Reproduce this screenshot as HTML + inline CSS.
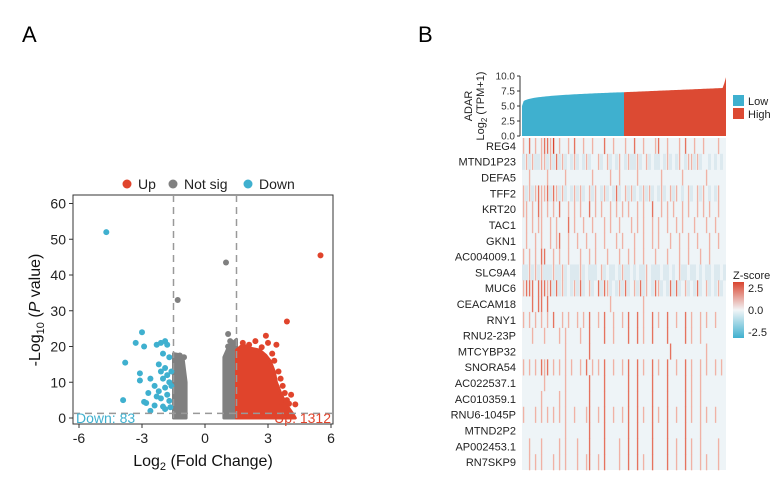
<!DOCTYPE html>
<html><head><meta charset="utf-8"><style>
body{margin:0;background:#fff;}
svg{display:block;font-family:"Liberation Sans",sans-serif;}
</style></head><body>
<svg id="svg" width="780" height="488" viewBox="0 0 780 488">
<text x="22" y="42" font-size="22">A</text>
<text x="418" y="42" font-size="22">B</text>
<g id="volcano"></g>
<g id="heat"></g>
</svg>
<script>
const NS='http://www.w3.org/2000/svg';
function mk(t,a,p){const e=document.createElementNS(NS,t);for(const k in a)e.setAttribute(k,a[k]);p.appendChild(e);return e;}
// ---- Volcano data ----
const xTicks=[-6,-3,0,3,6];
const yTicks=[0,10,20,30,40,50,60];
const fcCut=1.5, pCut=1.3;
const bluePts=[[-4.7,52],[-3.0,24],[-3.3,21],[-2.9,20],[-3.8,15.5],[-3.1,12.5],[-3.1,10.5],[-2.6,11],[-2.4,9],[-2.7,7],[-3.9,5],[-2.9,4.5],[-2.8,4.2],[-2.3,20.5],[-2.1,21],[-1.9,21.5],[-1.8,20.5],[-2.0,18],[-1.7,17],[-2.2,15],[-1.9,14],[-2.1,13],[-1.8,12],[-2.0,11],[-1.7,10],[-1.9,8.5],[-2.2,7.5],[-1.8,6.5],[-2.1,5.5],[-1.7,4.8],[-2.4,3.5],[-1.9,2.5],[-2.6,2],[-1.6,9],[-1.6,13],[-2.3,6],[-2.0,3.2],[-1.65,3]];
const grayPts=[[-1.3,33],[1.0,43.5],[1.1,23.5],[1.2,21.5],[1.1,20],[-1.2,17.5],[-1.0,17]];
const redPts=[[5.5,45.5],[3.9,27],[2.9,23],[2.4,21.5],[3.0,21],[3.4,20.5],[3.2,18],[3.5,13],[3.6,11],[3.7,9],[3.8,7],[4.1,6.5],[3.9,5],[4.3,3.8],[3.6,4.5],[4.0,4],[1.8,21],[2.1,20.5],[2.7,19.8],[3.3,16]];
const grayLeftEnv=[[-1.5,0],[-1.5,18],[-1.3,17.8],[-1.05,17],[-0.9,10],[-0.9,0]];
const grayRightEnv=[[0.9,0],[0.9,17],[1.05,19],[1.3,21],[1.5,22],[1.5,0]];
const redEnv=[[1.5,0],[1.5,19],[1.8,20.5],[2.2,19.5],[2.6,19],[2.9,17.5],[3.1,16],[3.3,13],[3.4,10],[3.6,7],[3.9,3.5],[4.2,1],[4.3,0]];
const counts=["Down: 83","Up: 1312"];
(function(){
 const g=document.getElementById('volcano');
 const L=73,R=333,T=195,B=424;
 const X=v=>205+v*(63/3);
 const Y=v=>418-v*3.575;
 mk('rect',{x:L,y:T,width:R-L,height:B-T,fill:'none',stroke:'#333','stroke-width':1},g);
 yTicks.forEach(t=>{const y=Y(t);mk('line',{x1:L-4,x2:L,y1:y,y2:y,stroke:'#333'},g);const tx=mk('text',{x:L-7,y:y+5,'font-size':14,'text-anchor':'end',fill:'#222'},g);tx.textContent=t;});
 xTicks.forEach(t=>{const x=X(t);mk('line',{x1:x,x2:x,y1:B,y2:B+4,stroke:'#333'},g);const tx=mk('text',{x:x,y:B+19,'font-size':14,'text-anchor':'middle',fill:'#222'},g);tx.textContent=t;});
 function env(p,c,n){const e=mk('polygon',{points:p.map(q=>X(q[0])+','+Y(q[1])).join(' '),fill:c,stroke:c,'stroke-width':3,'stroke-linejoin':'round'},g);}
 env(grayLeftEnv,'#808080','gray-cluster-left');env(grayRightEnv,'#808080','gray-cluster-right');env(redEnv,'#e0442c','up-cluster');
 function pts(a,c,n){a.forEach(p=>{const e=mk('circle',{cx:X(p[0]),cy:Y(p[1]),r:3,fill:c},g);});}
 pts(grayPts,'#808080','not-sig-point');pts(bluePts,'#3fb0cf','down-point');pts(redPts,'#e0442c','up-point');
 [-fcCut,fcCut].forEach(v=>{const e=mk('line',{x1:X(v),x2:X(v),y1:T,y2:B,stroke:'#999','stroke-width':1.5,'stroke-dasharray':'7,5'},g);});
 const h=mk('line',{x1:L,x2:R,y1:Y(pCut),y2:Y(pCut),stroke:'#999','stroke-width':1.5,'stroke-dasharray':'7,5'},g);
 let t=mk('text',{x:L+3,y:423,'font-size':14,fill:'#3fb0cf'},g);t.textContent=counts[0];
 t=mk('text',{x:R-2,y:423,'font-size':14,fill:'#e0442c','text-anchor':'end'},g);t.textContent=counts[1];
 t=mk('text',{x:203,y:466,'font-size':16,'text-anchor':'middle',fill:'#111'},g);t.innerHTML='Log<tspan font-size="11" dy="4">2</tspan><tspan dy="-4"> (Fold Change)</tspan>';
 t=mk('text',{x:0,y:0,'font-size':16,'text-anchor':'middle',fill:'#111',transform:'translate(40,310) rotate(-90)'},g);t.innerHTML='-Log<tspan font-size="11" dy="4">10</tspan><tspan dy="-4"> (</tspan><tspan font-style="italic">P</tspan> value)';
 const leg=[['Up','#e0442c',127],['Not sig','#808080',173],['Down','#3fb0cf',248]];
 leg.forEach(l=>{const c=mk('circle',{cx:l[2],cy:184,r:4.5,fill:l[1]},g);const tx=mk('text',{x:l[2]+11,y:189,'font-size':14,fill:'#222'},g);tx.textContent=l[0];});
})();
// ---- Heatmap data ----
const genes=["REG4","MTND1P23","DEFA5","TFF2","KRT20","TAC1","GKN1","AC004009.1","SLC9A4","MUC6","CEACAM18","RNY1","RNU2-23P","MTCYBP32","SNORA54","AC022537.1","AC010359.1","RNU6-1045P","MTND2P2","AP002453.1","RN7SKP9"];
const barTicks=[0,2.5,5,7.5,10];
const adarStart=5.0, adarMid=7.3, adarEnd=8.0, adarMax=9.8;
const rows=[
"1.2.1.12213.1..1.2..1..1...2..1...1..2..1...12..1...1.2..1..1....1..",
"b1b1bb11b1b2b1b.b1b.b1b..1b.1b.b1.b1bb1b.1b.bb.b1b.b1.b11b1b..b.b.b.",
"..1.....1.....1........1.....1..1.....1.......1......1.......1......",
"1b1b12112b21b1b.b1b1b.1b1.b1b.b2b.1b1b.b1b1b.b1b.1b1.b.1b.1b1.b.b1.",
"11.1.21.1.1.2..1.1.1..2.1.1..1.1.1.1..1.1..2..1.1.1..1.1..1.1.1..1.",
".1.1.11..1.1...2.1..1..1...1.1..1...1.1.1..1.1..1..1.1...1...1..1..",
".1..1.1..1.12..1..1..1..1..1...1.1...1..1..1.1...1..1..1..1...1..1.",
"1.1.1.22..1.1..1...1..1.1...1...1..1.1..1...1...1...1..1...1..1....",
"bb1b1b1bbb1bb1b.bbb1b.bbb.1b.bb.b1bb.b.bb1.bbb.bb.b.1bb.bb.b.bb.bb.b",
"1222.22212b2b1b.b1b2b.1b.2b21b.b1b2b.1b2b1.b21b.b2b2b.1b.b2b.1b.b1b.",
"...2.22.2....................1..........1..........................",
"1.1.1.1.1.2..1.1..1.1.2..1.2..1..1.2..2.1..2.1..2..1..2.1..1.1..1..",
"...1...1....1.1....1..2....2..1....2..2.1..2....2.....2.1..1.......",
"..............1.......2..........................2...........1.....",
"1.1.1.212.1.1.1.1..1.2.1.1.2..1..1.2..2.1..2.1..2..1..2.1..1.1..1.1",
".......1......1.......2....2.......2..2....2....2.....2.1..1.......",
"......1.....1.1.......2....2.......2..2....2....2.....2.1..1.......",
"1...1.1.1.1.1.1..1...12..1.2..1..1.2..2.1..2.1..2..1..2.1..1.1..1..",
"..............1.......2....2.......2..2....2....2.....2....1.......",
"..1...1.....1.1...1...2....2....1..2..2....2....2..1..2.1..1.....1.",
"..1.1.1...1.1.1...1..12..1.2....1..2..2.1..2....2..1..2.1..1.1...1.",
];
const zTicks=[2.5,0.0,-2.5];
(function(){
 const g=document.getElementById('heat');
 const L=522,R=726,T=138,B=470;
 const bT=76,bB=136;
 const Yb=v=>bB-v*(bB-bT)/10;
 const n=rows[0].length, cw=(R-L)/n;
 function curve(t){
  if(t<0.5){return adarStart+(adarMid-adarStart)*Math.pow(t/0.5,0.25);}
  if(t<0.985){return adarMid+(adarEnd-adarMid)*((t-0.5)/0.485);}
  return adarEnd+(adarMax-adarEnd)*((t-0.985)/0.015);
 }
 function area(t0,t1,c,name){let d='M'+(L+(R-L)*t0)+','+bB;for(let i=0;i<=60;i++){const t=t0+(t1-t0)*i/60;d+=' L'+(L+(R-L)*t)+','+Yb(curve(t));}d+=' L'+(L+(R-L)*t1)+','+bB+' Z';const e=mk('path',{d:d,fill:c},g);}
 area(0,0.5,'#3fb0cf','adar-low-area');area(0.5,1,'#dc4a33','adar-high-area');
 mk('line',{x1:L-2,x2:L-2,y1:bT,y2:bB,stroke:'#333'},g);
 barTicks.forEach(t=>{const y=Yb(t);mk('line',{x1:L-5,x2:L-2,y1:y,y2:y,stroke:'#333'},g);const tx=mk('text',{x:L-7,y:y+3.5,'font-size':10,'text-anchor':'end',fill:'#333'},g);tx.textContent=t.toFixed(1);});
 let t=mk('text',{x:0,y:0,'font-size':11,'text-anchor':'middle',fill:'#222',transform:'translate(472,106) rotate(-90)'},g);t.textContent='ADAR';
 t=mk('text',{x:0,y:0,'font-size':11,'text-anchor':'middle',fill:'#222',transform:'translate(484,106) rotate(-90)'},g);t.innerHTML='Log<tspan font-size="8" dy="3">2</tspan><tspan dy="-3"> (TPM+1)</tspan>';
 [['Low','#3fb0cf',95],['High','#dc4a33',108]].forEach(l=>{const r=mk('rect',{x:733,y:l[2],width:11,height:11,fill:l[1]},g);const tx=mk('text',{x:748,y:l[2]+10,'font-size':11,fill:'#222'},g);tx.textContent=l[0];});
 const rh=(B-T)/genes.length;
 const col={'.':'#eef4f7','1':'#f0b2a6','2':'#e5735f','3':'#d9442f','b':'#dce9ef'};
 mk('rect',{x:L,y:T,width:R-L,height:B-T,fill:'#eef4f7'},g);
 rows.forEach((r,i)=>{for(let j=0;j<r.length;j++){const ch=r[j];if(ch==='.')continue;const e=mk('rect',{x:L+j*cw+ (ch==='b'?0:cw*0.3),y:T+i*rh,width:ch==='b'?cw:cw*0.45,height:rh+0.3,fill:col[ch]},g);}});
 genes.forEach((gn,i)=>{const tx=mk('text',{x:L-6,y:T+i*rh+rh/2+4,'font-size':11,'text-anchor':'end',fill:'#222'},g);tx.textContent=gn;});
 const defs=mk('defs',{},g);const lg=mk('linearGradient',{id:'zg',x1:0,y1:0,x2:0,y2:1},defs);
 [['0','#d9442f'],['0.5','#f2f5f7'],['1','#3fb0cf']].forEach(s=>mk('stop',{offset:s[0],'stop-color':s[1]},lg));
 t=mk('text',{x:733,y:279,'font-size':11,fill:'#222'},g);t.textContent='Z-score';
 const zr=mk('rect',{x:733,y:282,width:11,height:56,fill:'url(#zg)'},g);
 zTicks.forEach(v=>{const y=310-v*(22/2.5);const tx=mk('text',{x:748,y:y+4,'font-size':11,fill:'#222'},g);tx.textContent=v.toFixed(1);});
})();
</script>
</body></html>
